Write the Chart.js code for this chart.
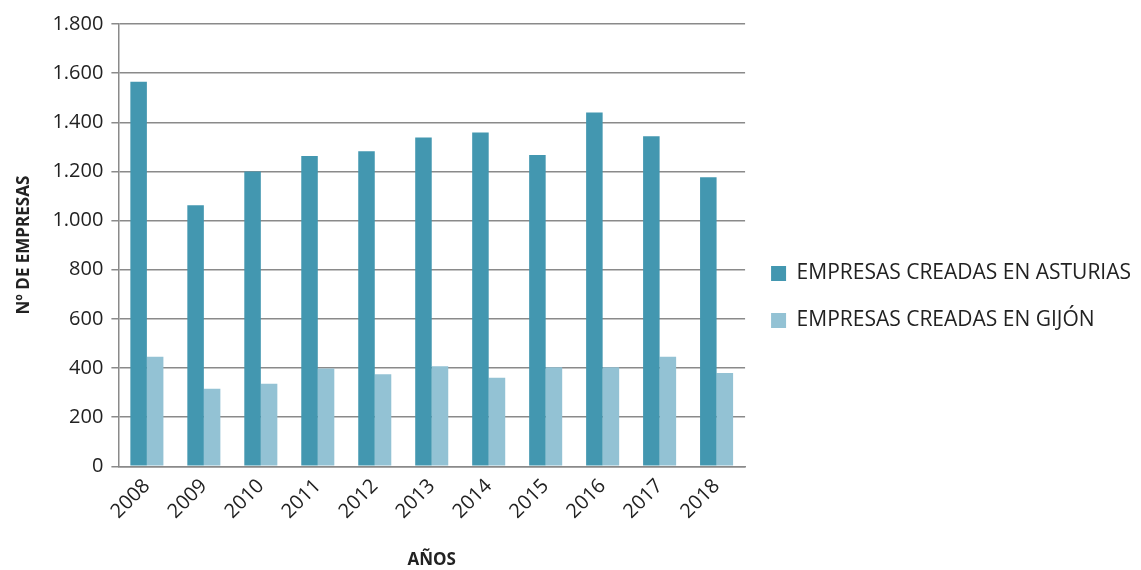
<!DOCTYPE html>
<html>
<head>
<meta charset="utf-8">
<script src="https://cdn.jsdelivr.net/npm/chart.js@4.4.1/dist/chart.umd.min.js"></script>
<style>
  html, body { margin: 0; padding: 0; background: #fff; }
  #wrap { width: 1141px; height: 570px; }
</style>
</head>
<body>
<div id="wrap"><canvas id="chart" width="1141" height="570"></canvas></div>
<script>
const years = ["2008", "2009", "2010", "2011", "2012", "2013", "2014", "2015", "2016", "2017", "2018"];
const asturias = [1565, 1062, 1200, 1263, 1282, 1338, 1358, 1267, 1440, 1343, 1176];
const gijon = [446, 316, 336, 398, 375, 407, 360, 403, 403, 446, 380];
const seriesNames = ["EMPRESAS CREADAS EN ASTURIAS", "EMPRESAS CREADAS EN GIJÓN"];

const FONT = "'Open Sans', 'Noto Sans', sans-serif";
const fmt = (v) => String(v).replace(/\B(?=(\d{3})+(?!\d))/g, ".");

function draw() {
  new Chart(document.getElementById("chart"), {
    type: "bar",
    data: {
      labels: years,
      datasets: [
        { label: seriesNames[0], data: asturias, backgroundColor: "#4397b0" },
        { label: seriesNames[1], data: gijon, backgroundColor: "#93c2d4" }
      ]
    },
    options: {
      responsive: false,
      animation: false,
      devicePixelRatio: 1,
      layout: { padding: { top: 24, right: 0, left: 10, bottom: 0 } },
      datasets: { bar: { categoryPercentage: 0.58, barPercentage: 1.0 } },
      plugins: {
        tooltip: { enabled: false },
        legend: {
          position: "right",
          maxWidth: 440,
          labels: {
            font: { family: FONT, size: 21 },
            color: "#222",
            boxWidth: 15,
            boxHeight: 15,
            padding: 26
          }
        }
      },
      scales: {
        x: {
          grid: { display: false, drawTicks: false },
          border: { color: "#8a8a8a", width: 1.5 },
          ticks: {
            color: "#222",
            font: { family: FONT, size: 20 },
            maxRotation: 45,
            minRotation: 45,
            padding: 8
          },
          title: {
            display: true,
            text: "AÑOS",
            color: "#222",
            font: { family: FONT, size: 17, weight: "bold" },
            padding: { top: 18, bottom: 0 }
          }
        },
        y: {
          min: 0,
          max: 1800,
          grid: { color: "#8a8a8a", lineWidth: 1.5, tickLength: 7 },
          border: { color: "#8a8a8a", width: 1.5 },
          ticks: {
            stepSize: 200,
            color: "#222",
            font: { family: FONT, size: 20 },
            padding: 8,
            callback: (v) => fmt(v)
          },
          title: {
            display: true,
            text: "Nº DE EMPRESAS",
            color: "#222",
            font: { family: FONT, size: 17, weight: "bold" },
            padding: { bottom: 10 }
          }
        }
      }
    }
  });
}

Promise.all([
  document.fonts.load("17px 'Open Sans'"),
  document.fonts.load("bold 17px 'Open Sans'")
]).then(draw, draw);
</script>
</body>
</html>
